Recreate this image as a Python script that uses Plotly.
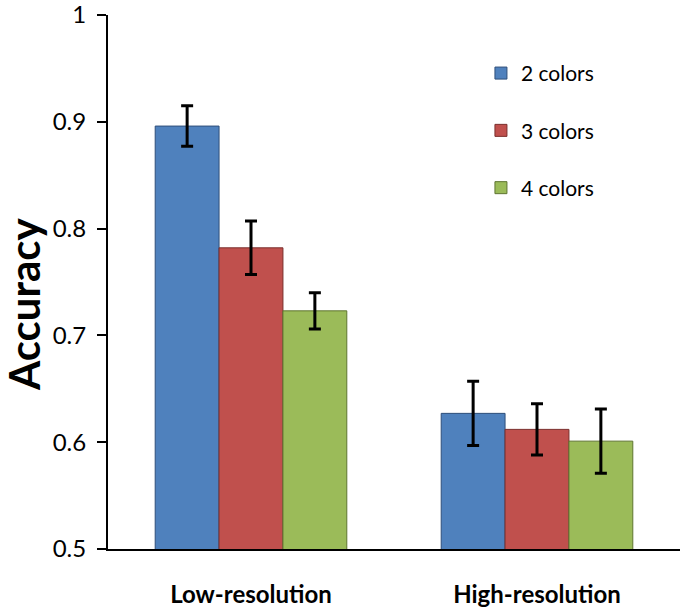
import plotly.graph_objects as go

categories = ["Low-resolution", "High-resolution"]
series_names = ["2 colors", "3 colors", "4 colors"]
values = {
    "2 colors": [0.896, 0.627],
    "3 colors": [0.782, 0.612],
    "4 colors": [0.723, 0.601],
}
errors = {
    "2 colors": [0.019, 0.030],
    "3 colors": [0.025, 0.024],
    "4 colors": [0.017, 0.030],
}
y_title = "Accuracy"
fill_colors = {"2 colors": "#4F81BD", "3 colors": "#C0504D", "4 colors": "#9BBB59"}
line_colors = {"2 colors": "#2F4F7A", "3 colors": "#7A2E2C", "4 colors": "#5E7530"}

FONT = "Lato"

fig = go.Figure()
for i, name in enumerate(series_names):
    fig.add_trace(go.Bar(
        name=name,
        x=categories,
        y=values[name],
        base=0,
        legendgroup=f"g{i}",
        marker=dict(color=fill_colors[name], line=dict(color=line_colors[name], width=1)),
        error_y=dict(type="data", array=errors[name], visible=True,
                     color="black", thickness=3, width=6),
    ))

fig.update_layout(
    width=686, height=614,
    margin=dict(l=108, r=6, t=15, b=65, autoexpand=False),
    paper_bgcolor="white", plot_bgcolor="white",
    barmode="group", bargap=0.33, bargroupgap=0,
    font=dict(family=FONT, color="black"),
    showlegend=True,
    legend=dict(x=0.652, y=0.929, xanchor="left", yanchor="top",
                font=dict(size=21, family=FONT, color="black"),
                tracegroupgap=27, bgcolor="rgba(0,0,0,0)",
                itemwidth=30),
    xaxis=dict(
        automargin=False,
        showline=True, linecolor="black", linewidth=2,
        ticks="", showgrid=False, zeroline=False,
        tickfont=dict(size=24, family=FONT, color="black", weight="bold"),
        ticklabelstandoff=23,
    ),
    yaxis=dict(
        automargin=False,
        range=[0.5, 1.0], dtick=0.1, tick0=0.5,
        showline=True, linecolor="black", linewidth=2,
        ticks="outside", ticklen=9, tickwidth=2, tickcolor="black",
        showgrid=False, zeroline=False,
        tickfont=dict(size=24, family=FONT, color="black"),
        ticksuffix="\u2009\u2009",
        ticklabeloverflow="allow",
    ),
    annotations=[dict(
        text=y_title, textangle=-90, showarrow=False,
        xref="paper", yref="paper", x=-0.146, y=0.458,
        xanchor="center", yanchor="middle",
        font=dict(size=42, family=FONT, color="black", weight="bold"),
    )],
)

fig.write_html("out.html", post_script="document.body.style.margin='0';",
               config={"displayModeBar": False})
